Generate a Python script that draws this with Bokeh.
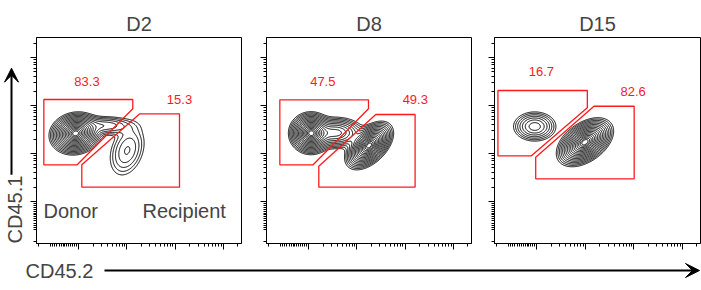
import numpy as np
from bokeh.plotting import figure
from bokeh.layouts import row, column
from bokeh.models import Range1d, FixedTicker, Label, Arrow, VeeHead, ColumnDataSource
from bokeh.embed import file_html
from bokeh.resources import INLINE
from bokeh.core.properties import value

FONT = "Liberation Sans"

# ---------------- data ----------------
days = ["D2", "D8", "D15"]
donor_pct = ["83.3", "47.5", "16.7"]
recip_pct = ["15.3", "49.3", "82.6"]

# axes in decades of fluorescence (2 = 10^2, 3 = 10^3 ...), biexponential-like low end
x_lo, x_hi = 1.13, 5.375
y_lo, y_hi = 1.125, 5.417
major_ticks = [2, 3, 4, 5]
near_zero_ticks = [1.17, 1.42, 1.46, 1.50, 1.55, 1.60, 1.64, 1.68, 1.72, 1.76,
                   1.80, 1.84, 1.88, 1.92, 1.96]
log_minor_ticks = [d + np.log10(k) for d in (2, 3, 4) for k in range(2, 10)] + [5 + np.log10(2)]

# gates (per panel)
donor_gate_x = [[1.282, 3.124, 3.124, 1.973, 1.282],
                [1.406, 3.242, 3.242, 2.095, 1.406],
                [1.201, 3.043, 3.043, 1.890, 1.201]]
donor_gate_y = [[4.125, 4.125, 3.931, 2.765, 2.765],
                [4.119, 4.119, 3.931, 2.765, 2.765],
                [4.3125, 4.3125, 3.952, 2.952, 2.952]]
recip_gate_x = [[3.269, 4.091, 4.091, 2.068, 2.068],
                [3.393, 4.207, 4.207, 2.213, 2.213],
                [3.180, 4.008, 4.008, 1.979, 1.979]]
recip_gate_y = [[3.827, 3.827, 2.298, 2.298, 2.765],
                [3.813, 3.813, 2.298, 2.298, 2.735],
                [3.985, 3.985, 2.473, 2.473, 2.923]]

donor_lbl_x = [2.176, 2.296, 2.097]
donor_lbl_y = [4.510, 4.510, 4.702]
recip_lbl_x = [4.091, 4.211, 3.988]
recip_lbl_y = [4.115, 4.115, 4.292]

# cell populations: panel, centre, spread, tilt, weight
pop_panel = [0, 0, 0, 1, 1, 1, 2, 2]
pop_cx = [1.938, 3.008, 2.56, 2.048, 2.57, 3.255, 1.959, 2.994]
pop_cy = [3.417, 3.0625, 3.58, 3.423, 3.43, 3.167, 3.5625, 3.235]
pop_sx = [0.20, 0.20, 0.30, 0.17, 0.25, 0.185, 0.205, 0.215]
pop_sy = [0.164, 0.29, 0.10, 0.164, 0.14, 0.185, 0.143, 0.186]
pop_rho = [0.1, 0.3, 0.0, 0.0, 0.0, 0.5, 0.0, 0.45]
pop_w = [1.0, 0.18, 0.12, 1.0, 0.45, 1.1, 0.18, 1.0]

# contour rings (in units of spread from the densest peak)
ring_radii = np.linspace(0.3, 2.75, 17)

# ---------------- panels ----------------
gx = np.linspace(x_lo, x_hi, 320)
gy = np.linspace(y_lo, y_hi, 320)
GX, GY = np.meshgrid(gx, gy)
levels = sorted(np.exp(-0.5 * ring_radii ** 2))

borders_left = [10, 24, 22]
frame_w = [205, 205, 206]

figs = []
for i, day in enumerate(days):
    w = borders_left[i] + frame_w[i] + 1
    p = figure(width=w, height=255, output_backend="svg", toolbar_location=None,
               x_range=Range1d(x_lo, x_hi), y_range=Range1d(y_lo, y_hi),
               min_border_left=borders_left[i], min_border_right=1,
               min_border_top=37, min_border_bottom=12,
               title=day)
    p.title.align = "center"
    p.title.text_font = FONT
    p.title.text_font_size = "20px"
    p.title.text_font_style = "normal"
    p.title.standoff = 5
    p.grid.visible = False
    p.outline_line_color = "black"
    p.outline_line_width = 1
    p.background_fill_color = "white"
    p.border_fill_color = "white"
    for ax in (p.xaxis[0], p.yaxis[0]):
        ax.ticker = FixedTicker(ticks=major_ticks, minor_ticks=near_zero_ticks + log_minor_ticks)
        ax.major_tick_out = 6
        ax.major_tick_in = 0
        ax.minor_tick_out = 3
        ax.minor_tick_in = 0
        ax.major_label_text_font_size = "0px"
        ax.major_label_text_color = None
        ax.major_label_standoff = 0
        ax.axis_line_color = "black"
        ax.major_tick_line_color = "black"
        ax.minor_tick_line_color = "black"

    # density from the populations of this panel
    Z = np.zeros_like(GX)
    for k in range(len(pop_panel)):
        if pop_panel[k] != i:
            continue
        dx = (GX - pop_cx[k]) / pop_sx[k]
        dy = (GY - pop_cy[k]) / pop_sy[k]
        r = pop_rho[k]
        q = (dx * dx - 2 * r * dx * dy + dy * dy) / (1 - r * r)
        Z += pop_w[k] / (pop_sx[k] * pop_sy[k] * np.sqrt(1 - r * r)) * np.exp(-0.5 * q)
    Z = Z / Z.max()
    p.contour(gx, gy, Z, levels, line_color="black", line_width=1)

    # gates
    p.patches([donor_gate_x[i], recip_gate_x[i]], [donor_gate_y[i], recip_gate_y[i]],
              fill_color=None, line_color="#ff1a1a", line_width=1.3)
    src = ColumnDataSource(dict(x=[donor_lbl_x[i], recip_lbl_x[i]],
                                y=[donor_lbl_y[i], recip_lbl_y[i]],
                                t=[donor_pct[i], recip_pct[i]]))
    p.text("x", "y", "t", source=src, text_color="#ff1a1a", text_font=value(FONT),
           text_font_size="13px", text_align="center", text_baseline="middle")
    figs.append(p)

p1 = figs[0]
p1.add_layout(Label(x=1.275, y=1.792, text="Donor", text_font=FONT, text_font_size="20px",
                    text_align="left", text_baseline="alphabetic"))
p1.add_layout(Label(x=3.325, y=1.792, text="Recipient", text_font=FONT, text_font_size="20px",
                    text_align="left", text_baseline="alphabetic"))

# left strip: CD45.1 axis title with arrow (page pixel coordinates)
fl = figure(width=26, height=255, output_backend="svg", toolbar_location=None,
            x_range=Range1d(0, 26), y_range=Range1d(255, 0),
            x_axis_type=None, y_axis_type=None, min_border=0)
fl.grid.visible = False
fl.outline_line_color = None
fl.add_layout(Label(x=14, y=213, text="CD45.1", angle=np.pi / 2, text_font=FONT,
                    text_font_size="20px", text_align="center", text_baseline="middle"))
fl.add_layout(Arrow(x_start=11, y_start=170, x_end=11, y_end=38, line_width=2,
                    line_color="black",
                    end=VeeHead(size=14, fill_color="black", line_color="black")))

# bottom strip: CD45.2 axis title and arrow
fb = figure(width=701, height=35, output_backend="svg", toolbar_location=None,
            x_range=Range1d(0, 701), y_range=Range1d(35, 0),
            x_axis_type=None, y_axis_type=None, min_border=0)
fb.grid.visible = False
fb.outline_line_color = None
fb.add_layout(Label(x=25, y=15, text="CD45.2", text_font=FONT, text_font_size="20px",
                    text_align="left", text_baseline="middle"))
fb.add_layout(Arrow(x_start=104, y_start=15, x_end=699, y_end=15, line_width=2,
                    line_color="black",
                    end=VeeHead(size=14, fill_color="black", line_color="black")))

layout = column(row(fl, *figs, spacing=0), fb, spacing=0)
open("out.html", "w").write(file_html(layout, INLINE))
